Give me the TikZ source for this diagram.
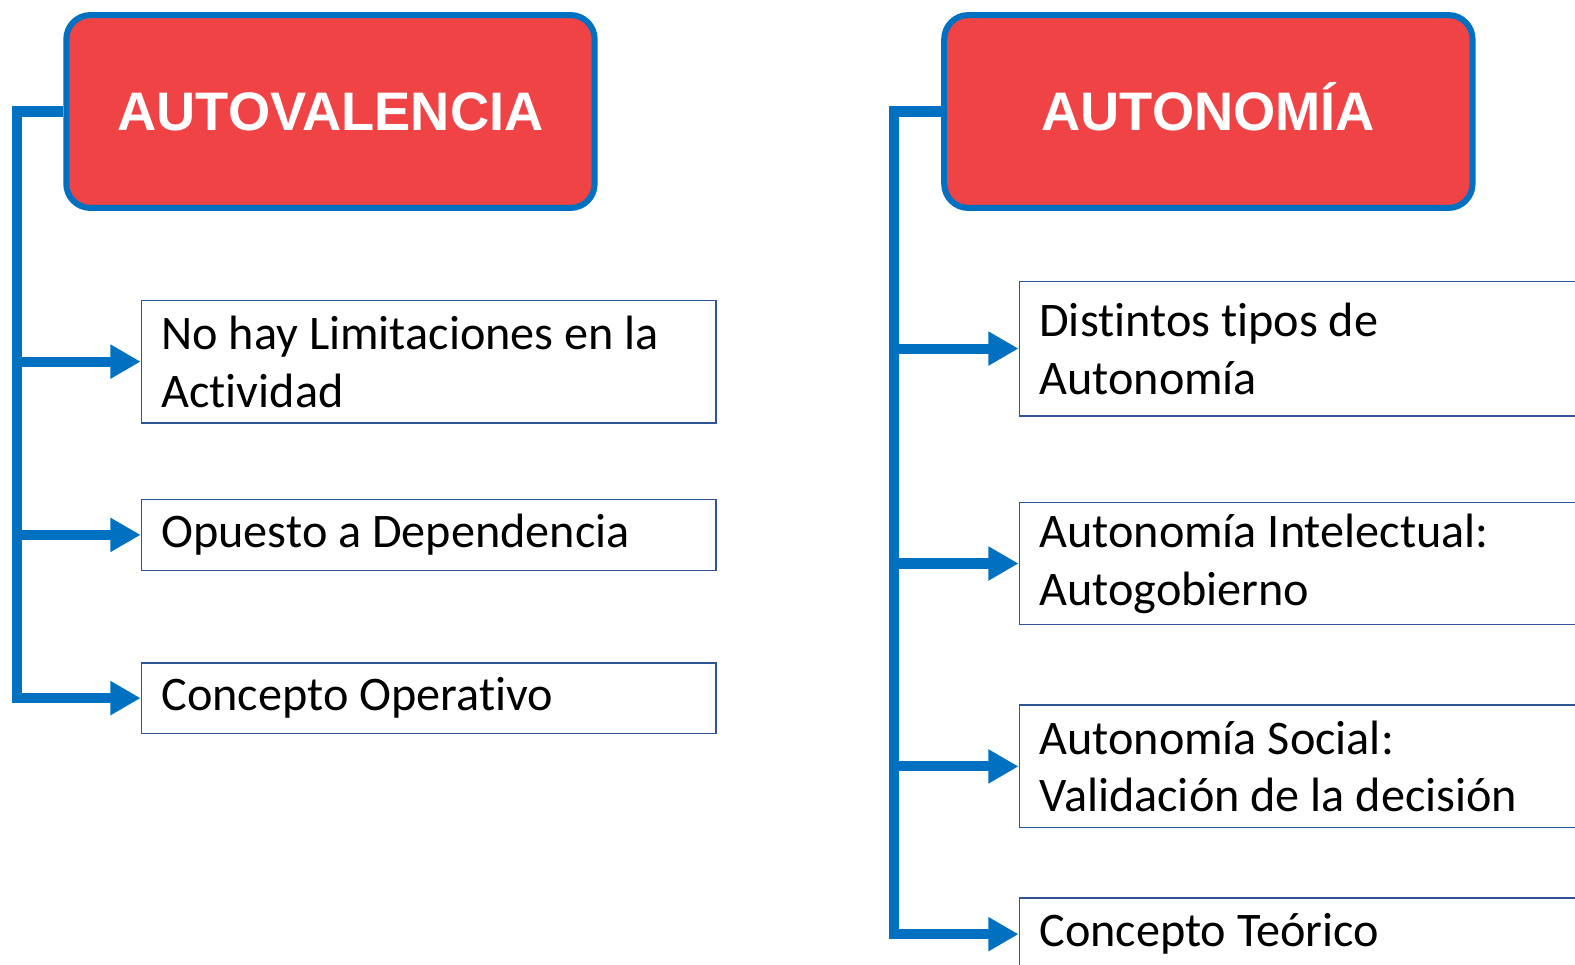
\documentclass[tikz,border=0pt]{standalone}
\usepackage{fontspec}
\setmainfont[Ligatures=NoCommon]{Carlito}
\newfontfamily\headfont{Liberation Sans}
\usetikzlibrary{arrows.meta}
\definecolor{headred}{RGB}{239,67,70}
\definecolor{linkblue}{RGB}{0,112,192}
\definecolor{boxblue}{RGB}{47,85,151}

\begin{document}
\begin{tikzpicture}
[x=0.5pt,y=-0.5pt,
  headdecorate/.style={shape=rectangle,rounded corners=12pt,draw=linkblue,line width=3pt,
    fill=headred,text=white,font=\headfont\bfseries\fontsize{27}{30}\selectfont,
    text height=19.4pt,text depth=0pt,minimum width=263pt,minimum height=96pt},%
  itemdecorate/.style={shape=rectangle,draw=boxblue,line width=0.7pt,anchor=west,
    align=flush left,inner xsep=10pt,inner ysep=0pt,font=\fontsize{24}{28.8}\selectfont},%
  linkdecorate/.style={draw=linkblue,line width=5pt},%
  arrowdecorate/.style={linkdecorate,-{Triangle[length=15pt,width=16pt]}}]
\useasboundingbox (0,0) rectangle (1568,960);
\clip (0,0) rectangle (1568,960);
%% headings
\node (autoval) at (329,111) [headdecorate] {AUTOVALENCIA};
\node (autonom) at (1203,111) [headdecorate] {AUTONOMÍA};
%% boxes
\foreach \nodename/\x/\y/\w/\h/\txt in {
  val1/140/360/266pt/61pt/{No hay Limitaciones en la\\Actividad},
  val2/140/532.5/266pt/35.5pt/{Opuesto a Dependencia},
  val3/140/695/266pt/35pt/{Concepto Operativo},
  nom1/1014/347/273pt/67pt/{Distintos tipos de\\Autonomía},
  nom2/1014/561/273pt/61pt/{Autonomía Intelectual:\\Autogobierno},
  nom3/1014/763/273pt/61pt/{Autonomía Social:\\Validación de la decisión},
  nom4/1014/930/273pt/36pt/{Concepto Teórico}} {
  \node (\nodename) at (\x,\y) [itemdecorate,text width=\w,minimum height=\h] {\txt};
}
%% lines
\coordinate (valfoot) at (17,695);
\coordinate (nomfoot) at (890,930);
\draw[arrowdecorate] (autoval.west) -| (valfoot) -- (val3.west);
\draw[arrowdecorate] (autonom.west) -| (nomfoot) -- (nom4.west);
\foreach \nodename in {val1,val2} {
  \draw[arrowdecorate] (valfoot |- \nodename.west) -- (\nodename.west);
}
\foreach \nodename in {nom1,nom2,nom3} {
  \draw[arrowdecorate] (nomfoot |- \nodename.west) -- (\nodename.west);
}
\end{tikzpicture}
\end{document}
